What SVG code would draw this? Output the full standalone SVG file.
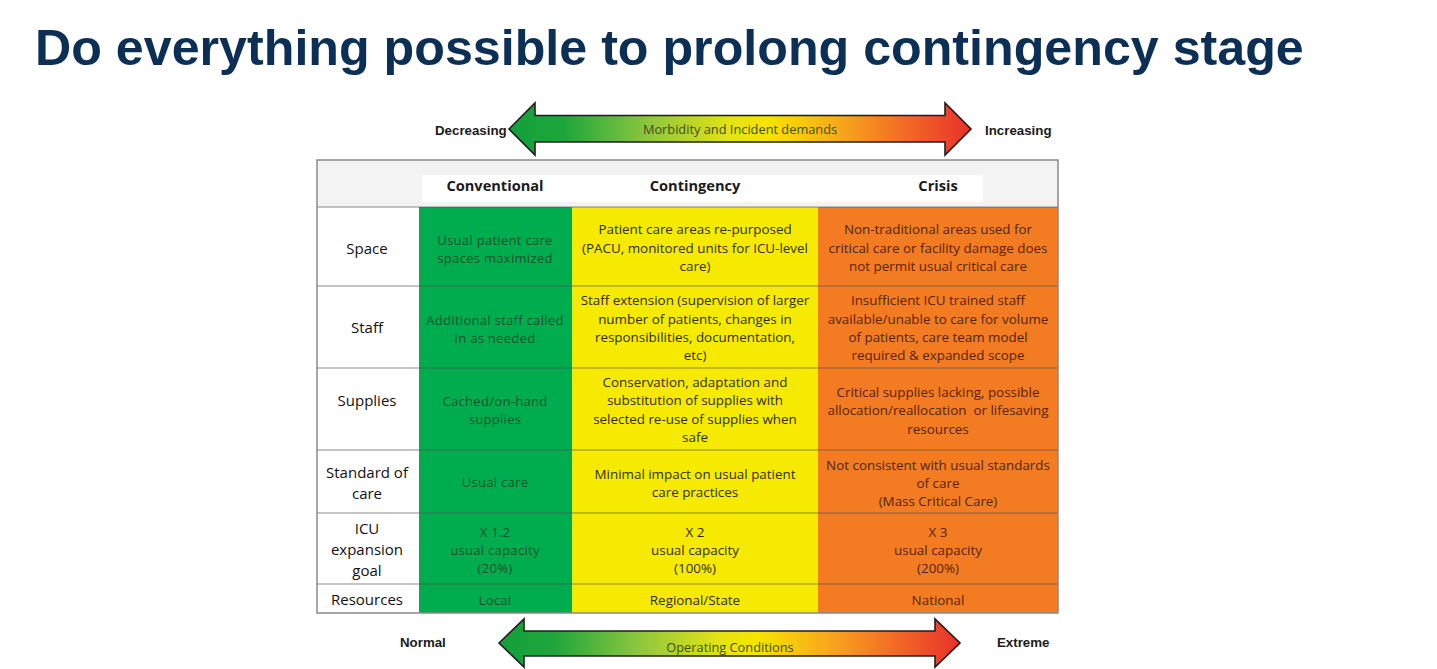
<svg xmlns="http://www.w3.org/2000/svg" width="1437" height="669" viewBox="0 0 1437 669">
<style>
.title{font-family:"Liberation Sans",Arial,sans-serif;font-weight:bold;font-size:50.2px;fill:#0c2f55}
.side{font-family:"Liberation Sans",Arial,sans-serif;font-weight:bold;font-size:13.3px;fill:#1a1a1a}
.arrowtxt{font-family:"Open Sans",sans-serif;font-size:12.8px;fill:#3d4f12;text-anchor:middle}
.hdr{font-family:"Open Sans",sans-serif;font-weight:bold;font-size:14.6px;fill:#1a1a1a;text-anchor:middle}
.lbl{font-family:"Open Sans",sans-serif;font-size:15px;fill:#111;text-anchor:middle}
.t{font-family:"Open Sans",sans-serif;font-size:13.4px;text-anchor:middle}
.g{fill:#14532a;font-size:13px;letter-spacing:0.3px}
.y{fill:#2e2e10}
.o{fill:#55240b}
.rule{stroke:#555;stroke-opacity:0.45;stroke-width:1.5}
.arrow{stroke:#1e1e1e;stroke-width:1.6;fill:url(#grad)}
</style>
<defs>
<linearGradient id="grad" x1="0" y1="0" x2="1" y2="0">
<stop offset="0" stop-color="#12a03a"/>
<stop offset="0.12" stop-color="#1ea63c"/>
<stop offset="0.3" stop-color="#8cc63f"/>
<stop offset="0.48" stop-color="#e5e314"/>
<stop offset="0.56" stop-color="#f7e400"/>
<stop offset="0.7" stop-color="#f8ae1a"/>
<stop offset="0.86" stop-color="#f26a26"/>
<stop offset="1" stop-color="#e8302b"/>
</linearGradient>
</defs>
<rect width="1437" height="669" fill="#ffffff"/>
<text id="title" class="title" x="35" y="65">Do everything possible to prolong contingency stage</text>

<g id="connectors">
<g id="arrow-top">
<polygon class="arrow" points="509,129 535,103 535,115.5 945,115.5 945,103 971,129 945,155 945,142 535,142 535,155"/>
<text class="arrowtxt" x="740" y="134">Morbidity and Incident demands</text>
</g>
<g id="arrow-bottom">
<polygon class="arrow" points="499,643 524,619 524,631 935,631 935,619 960,643 935,667 935,656 524,656 524,667"/>
<text class="arrowtxt" x="730" y="652">Operating Conditions</text>
</g>
</g>
<text id="lbl-decreasing" class="side" x="435" y="135">Decreasing</text>
<text id="lbl-increasing" class="side" x="985" y="135">Increasing</text>
<text id="lbl-normal" class="side" x="400" y="647">Normal</text>
<text id="lbl-extreme" class="side" x="997" y="647">Extreme</text>

<g id="table">
<g id="header">
<rect x="317" y="160" width="741" height="47" fill="#f3f3f3"/>
<rect x="422" y="175" width="561" height="27" fill="#ffffff"/>
<text class="hdr" x="495" y="191">Conventional</text>
<text class="hdr" x="695" y="191">Contingency</text>
<text class="hdr" x="938" y="191">Crisis</text>
</g>
<g id="columns">
<rect x="317" y="207" width="102" height="406" fill="#ffffff"/>
<rect id="col-conventional" x="419" y="207" width="153" height="406" fill="#00ad4e"/>
<rect id="col-contingency" x="572" y="207" width="246" height="406" fill="#f6ea00"/>
<rect id="col-crisis" x="818" y="207" width="240" height="406" fill="#f37b22"/>
</g>
<g id="rules">
<line class="rule" x1="317" y1="207" x2="1058" y2="207"/>
<line class="rule" x1="317" y1="286" x2="1058" y2="286"/>
<line class="rule" x1="317" y1="368" x2="1058" y2="368"/>
<line class="rule" x1="317" y1="450" x2="1058" y2="450"/>
<line class="rule" x1="317" y1="513" x2="1058" y2="513"/>
<line class="rule" x1="317" y1="584" x2="1058" y2="584"/>
</g>
<rect id="table-border" x="317" y="160" width="741" height="453" fill="none" stroke="#8a8a8a" stroke-width="1.5"/>

<g id="row-space">
<text class="lbl" x="367" y="254">Space</text>
<text class="t g" x="495" y="245">Usual patient care</text>
<text class="t g" x="495" y="263">spaces maximized</text>
<text class="t y" x="695" y="234">Patient care areas re-purposed</text>
<text class="t y" x="695" y="253">(PACU, monitored units for ICU-level</text>
<text class="t y" x="695" y="271">care)</text>
<text class="t o" x="938" y="234">Non-traditional areas used for</text>
<text class="t o" x="938" y="253">critical care or facility damage does</text>
<text class="t o" x="938" y="271">not permit usual critical care</text>
</g>
<g id="row-staff">
<text class="lbl" x="367" y="333">Staff</text>
<text class="t g" x="495" y="325">Additional staff called</text>
<text class="t g" x="495" y="343">in as needed</text>
<text class="t y" x="695" y="305">Staff extension (supervision of larger</text>
<text class="t y" x="695" y="324">number of patients, changes in</text>
<text class="t y" x="695" y="342">responsibilities, documentation,</text>
<text class="t y" x="695" y="360">etc)</text>
<text class="t o" x="938" y="305">Insufficient ICU trained staff</text>
<text class="t o" x="938" y="324">available/unable to care for volume</text>
<text class="t o" x="938" y="342">of patients, care team model</text>
<text class="t o" x="938" y="360">required &amp; expanded scope</text>
</g>
<g id="row-supplies">
<text class="lbl" x="367" y="406">Supplies</text>
<text class="t g" x="495" y="406">Cached/on-hand</text>
<text class="t g" x="495" y="424">supplies</text>
<text class="t y" x="695" y="387">Conservation, adaptation and</text>
<text class="t y" x="695" y="405">substitution of supplies with</text>
<text class="t y" x="695" y="424">selected re-use of supplies when</text>
<text class="t y" x="695" y="442">safe</text>
<text class="t o" x="938" y="397">Critical supplies lacking, possible</text>
<text class="t o" x="938" y="415" xml:space="preserve">allocation/reallocation  or lifesaving</text>
<text class="t o" x="938" y="434">resources</text>
</g>
<g id="row-standard">
<text class="lbl" x="367" y="478">Standard of</text>
<text class="lbl" x="367" y="499">care</text>
<text class="t g" x="495" y="487">Usual care</text>
<text class="t y" x="695" y="479">Minimal impact on usual patient</text>
<text class="t y" x="695" y="497">care practices</text>
<text class="t o" x="938" y="470">Not consistent with usual standards</text>
<text class="t o" x="938" y="488">of care</text>
<text class="t o" x="938" y="506">(Mass Critical Care)</text>
</g>
<g id="row-icu">
<text class="lbl" x="367" y="534">ICU</text>
<text class="lbl" x="367" y="555">expansion</text>
<text class="lbl" x="367" y="576">goal</text>
<text class="t g" x="495" y="537">X 1.2</text>
<text class="t g" x="495" y="555">usual capacity</text>
<text class="t g" x="495" y="573">(20%)</text>
<text class="t y" x="695" y="537">X 2</text>
<text class="t y" x="695" y="555">usual capacity</text>
<text class="t y" x="695" y="573">(100%)</text>
<text class="t o" x="938" y="537">X 3</text>
<text class="t o" x="938" y="555">usual capacity</text>
<text class="t o" x="938" y="573">(200%)</text>
</g>
<g id="row-resources">
<text class="lbl" x="367" y="605">Resources</text>
<text class="t g" x="495" y="605">Local</text>
<text class="t y" x="695" y="605">Regional/State</text>
<text class="t o" x="938" y="605">National</text>
</g>
</g>
</svg>
